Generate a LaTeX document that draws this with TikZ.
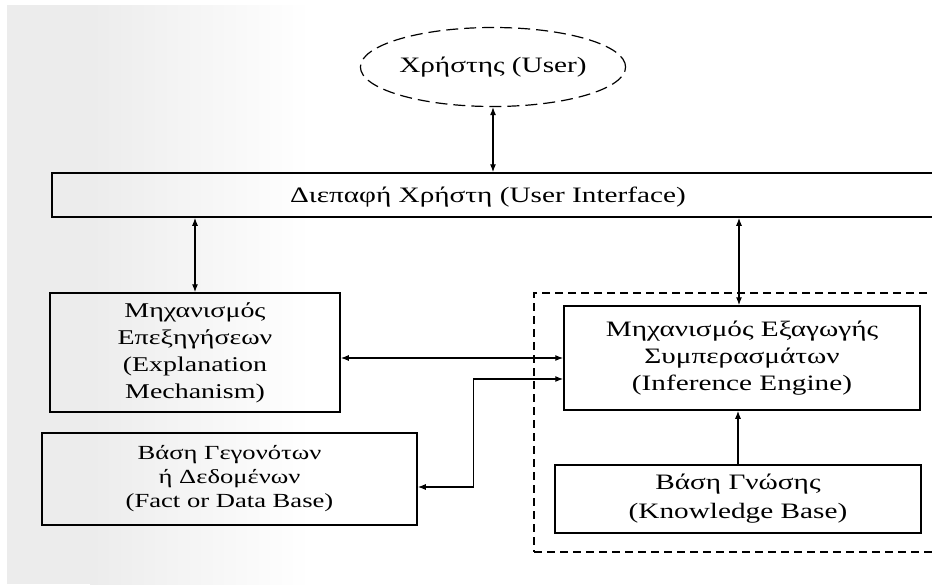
\documentclass[tikz,border=0pt]{standalone}
\usepackage{fontspec}
\setmainfont{Liberation Serif}[FakeStretch=1.33]
\usetikzlibrary{arrows.meta,shapes.geometric}
\begin{document}
\begin{tikzpicture}[x=1pt,y=-1pt,
  box/.style={draw, line width=1.5pt, inner sep=0pt},
  txt/.style={align=center, inner sep=0pt},
  arr/.style={line width=1.2pt, {Latex[length=8pt,width=6pt]}-{Latex[length=8pt,width=6pt]}},
  grp/.style={draw, dash pattern=on 8pt off 5pt, line width=1.3pt, inner sep=0pt},
]
\useasboundingbox (0,0) rectangle (932,584);
\clip (0,0) rectangle (932,584);
\fill[white] (0,0) rectangle (932,584);
\fill[gray!15] (7,5) rectangle (90,584);
\shade[left color=gray!15,right color=white] (90,5) rectangle (310,584);

% user
\node[ellipse, draw, dash pattern=on 12pt off 6pt, line width=1.2pt, minimum width=250pt, minimum height=79pt, inner sep=0pt, txt, font=\fontsize{22}{26}\selectfont] (user) at (493,67) {Χρήστης (User)};

% user interface bar
\node[box, minimum width=900pt, minimum height=44pt] (ui) at (502,195) {};
\node[txt, font=\fontsize{22}{26}\selectfont] (uit) at (488,197) {Διεπαφή Χρήστη (User Interface)};

% explanation mechanism
\node[box, txt, minimum width=290pt, minimum height=119pt, font=\fontsize{21}{27}\selectfont] (expl) at (195,352.5) {Μηχανισμός\\Επεξηγήσεων\\(Explanation\\Mechanism)};

% fact base
\node[box, txt, minimum width=375pt, minimum height=92pt, font=\fontsize{20}{24}\selectfont] (fact) at (229.5,479) {Βάση Γεγονότων\\ή Δεδομένων\\(Fact or Data Base)};

% dashed group
\node[grp, minimum width=418pt, minimum height=259pt] (grp) at (743,422.5) {};

% inference engine
\node[box, txt, fill=white, minimum width=356pt, minimum height=104pt, font=\fontsize{22}{27}\selectfont] (inf) at (742,358) {Μηχανισμός Εξαγωγής\\Συμπερασμάτων\\(Inference Engine)};

% knowledge base
\node[box, txt, fill=white, minimum width=366pt, minimum height=68pt, font=\fontsize{22}{29}\selectfont] (kb) at (738,499) {Βάση Γνώσης\\(Knowledge Base)};

% connectors
\draw[arr] (user.south) -- (user.south |- ui.north);
\draw[arr] (expl.north |- ui.south) -- (expl.north);
\draw[arr] ([xshift=-3pt]inf.north) -- ([xshift=-3pt]inf.north |- ui.south);
\draw[arr] (inf.west -| expl.east) -- (inf.west);
\draw[arr] ([yshift=-8pt]fact.east) -- ++(56,0) |- ([yshift=-21pt]inf.west);
\draw[line width=1.2pt, -{Latex[length=8pt,width=6pt]}] (kb.north) -- (kb.north |- inf.south);
\end{tikzpicture}
\end{document}
